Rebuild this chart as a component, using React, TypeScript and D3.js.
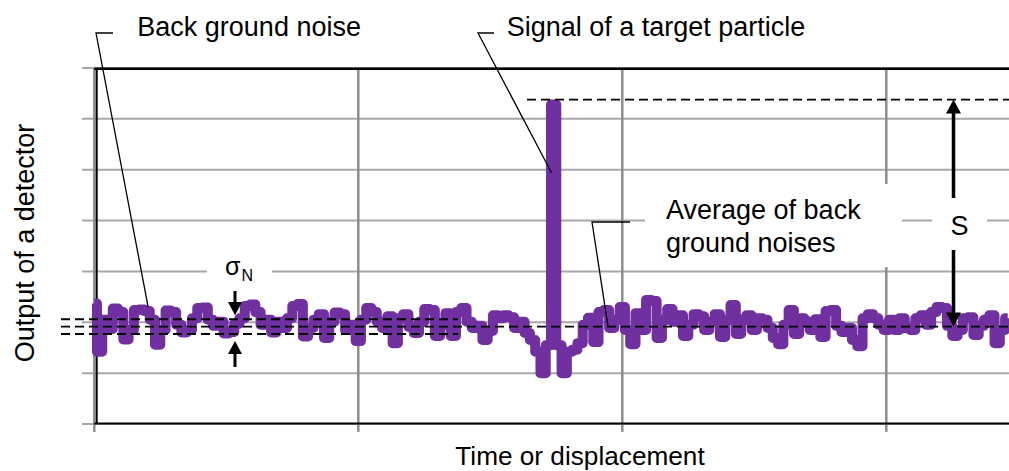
import React from 'react';
import * as d3 from 'd3';

const W = 1009;
const H = 471;

// Detector output, one value per sample (arbitrary units)
const noiseValues: number[] = [
  3.7, -5.8, 0.5, -1.3, 2.7, 2.0, -3.4, -1.5, 2.4, 2.5,
  2.2, 0.5, -4.4, -1.5, 2.3, 2.0, -0.5, -2.0, -1.5, 0.8,
  2.8, 2.9, 0.5, -0.7, 0.1, -2.2, -1.9, -0.3, 0.8, 3.2,
  3.5, 2.0, -0.5, 0.5, -2.0, 0.1, -1.1, 0.8, 3.2, 3.6,
  -2.8, -1.1, 0.5, 1.6, -3.1, 0.1, 1.9, 1.6, -1.5, -0.5,
  -3.7, 0.5, 2.8, 2.0, 0.1, -1.1, 1.2, -4.1, 0.8, 1.6,
  -0.9, -2.1, 0.1, 2.6, 2.4, -2.7, -0.5, 1.8, -2.7, 2.0,
  2.8, 0.1, -1.1, -0.7, -3.5, -1.7, 1.4, 0.8, 1.4, 1.0,
  -1.1, 0.1, -2.1, -3.5, -5.8, -10.0, -4.5, 42.8, -4.5, -10.0,
  -5.8, -5.4, -4.1, -0.5, 0.9, -3.9, 2.0, 2.4, -1.1, 0.5,
  3.0, -1.5, -4.3, 1.8, -1.5, 4.4, 4.2, -3.1, 0.5, 2.6,
  0.1, 1.4, -2.7, -0.5, 1.6, 1.2, -1.5, 0.1, 1.6, -2.9,
  0.5, 3.4, -2.3, 0.5, 1.4, -1.5, 0.8, 0.5, -1.1, -3.1,
  -4.3, -0.5, 2.4, -2.3, 0.8, 0.1, -1.5, 0.6, -2.9, 2.2,
  2.4, -0.7, -1.9, -1.1, -3.5, -4.7, 0.8, 1.6, 0.8, -0.5,
  -1.5, 0.5, -1.5, 0.8, -1.1, -1.5, 0.8, 1.4, -0.5, 2.0,
  3.0, 2.8, -0.7, -2.7, -1.5, 0.8, 1.0, -2.5, -0.7, 0.5,
  1.4, -4.1, -1.5, 0.8,
];

const xGridTicks = [0, 50, 100, 150];
const yGridTicks = [-20, -10, 0, 10, 20, 30, 40, 50];

const noiseMean = -0.85;
const noiseSigma = 1.45;
const signalLevel = 43.8;

const xTitle = 'Time or displacement';
const yTitle = 'Output of a detector';
const noiseLabel = 'Back ground noise';
const signalLabel = 'Signal of a target particle';
const averageLabel = ['Average of back', 'ground noises'];
const sLabel = 'S';

// anchor points of leader lines (sample index, value)
const noiseAnchor = { i: 10.2, v: 3.0 };
const signalAnchor = { i: 86.6, v: 29.4 };
const averageAnchor = { i: 97.3, v: noiseMean };

const PURPLE = '#7030A0';
const FONT = '"Liberation Sans", Arial, sans-serif';

export default function App() {
  const x = d3.scaleLinear().domain([0, 150]).range([94.3, 886.3]);
  const y = d3.scaleLinear().domain([-20, 50]).range([424, 68]);
  const plotLeft = x(0);
  const plotRight = 1015;
  const plotTop = y(50);
  const plotBottom = y(-20);

  const line = d3
    .line<number>()
    .x((_, i) => x(i))
    .y((d) => y(d))
    .curve(d3.curveStep);

  const yMean = y(noiseMean);
  const ySigUp = y(noiseMean + noiseSigma);
  const ySigDn = y(noiseMean - noiseSigma);
  const ySignal = y(signalLevel);

  const dash = '9,5';
  const sX = 953.5;
  const sigX = 235;

  return (
    <svg
      width={W}
      height={H}
      style={{ position: 'absolute', left: 0, top: 0, background: '#fff' }}
      fontFamily={FONT}
    >
      <rect x={0} y={0} width={W} height={H} fill="#fff" />
      {/* horizontal gridlines + y ticks */}
      {yGridTicks.map((t) => (
        <line key={'h' + t} x1={82} x2={plotRight} y1={y(t)} y2={y(t)} stroke="#a8a8a8" strokeWidth={2} />
      ))}
      {/* vertical gridlines + x ticks */}
      {xGridTicks.map((t) => (
        <line key={'v' + t} x1={x(t)} x2={x(t)} y1={plotTop} y2={plotBottom + 8} stroke="#8e8e8e" strokeWidth={2.5} />
      ))}
      {/* plot border */}
      <line x1={plotLeft} x2={plotRight} y1={plotTop + 0.8} y2={plotTop + 0.8} stroke="#000" strokeWidth={2.6} />
      <line x1={plotLeft + 2.4} x2={plotLeft + 2.4} y1={plotTop} y2={plotBottom} stroke="#000" strokeWidth={2} />
      <line x1={plotLeft} x2={plotRight} y1={plotBottom - 0.4} y2={plotBottom - 0.4} stroke="#000" strokeWidth={2} />

      {/* white boxes behind labels */}
      <rect x={207} y={256} width={65} height={32} fill="#fff" />
      <rect x={645} y={184} width={257} height={83} fill="#fff" />

      {/* signal */}
      <path d={line(noiseValues) || ''} fill="none" stroke={PURPLE} strokeWidth={10} strokeLinejoin="round" strokeLinecap="butt" />

      {/* dashed reference lines */}
      <line x1={61} x2={plotRight} y1={yMean} y2={yMean} stroke="#000" strokeWidth={1.8} strokeDasharray={dash} />
      <line x1={61} x2={458} y1={ySigUp} y2={ySigUp} stroke="#000" strokeWidth={1.8} strokeDasharray={dash} />
      <line x1={61} x2={458} y1={ySigDn} y2={ySigDn} stroke="#000" strokeWidth={1.8} strokeDasharray={dash} />
      <line x1={527} x2={plotRight} y1={ySignal} y2={ySignal} stroke="#000" strokeWidth={1.8} strokeDasharray={dash} />

      {/* sigma arrows */}
      <line x1={sigX} x2={sigX} y1={291} y2={304} stroke="#000" strokeWidth={3} />
      <path d={`M${sigX - 7},${302} L${sigX + 7},${302} L${sigX},${ySigUp - 4} Z`} fill="#000" />
      <line x1={sigX} x2={sigX} y1={352} y2={367} stroke="#000" strokeWidth={3} />
      <path d={`M${sigX - 7},${354} L${sigX + 7},${354} L${sigX},${ySigDn + 7} Z`} fill="#000" />

      {/* S arrow */}
      <line x1={sX} x2={sX} y1={ySignal + 12} y2={yMean - 12} stroke="#000" strokeWidth={3.5} />
      <path d={`M${sX - 7.5},${ySignal + 14} L${sX + 7.5},${ySignal + 14} L${sX},${ySignal} Z`} fill="#000" />
      <path d={`M${sX - 7.5},${yMean - 14} L${sX + 7.5},${yMean - 14} L${sX},${yMean} Z`} fill="#000" />
      <rect x={932} y={198} width={55} height={52} fill="#fff" />
      <text x={959.5} y={235} fontSize={27} textAnchor="middle" fill="#000">{sLabel}</text>

      {/* sigma label */}
      <text x={225} y={275} fontSize={25} fill="#000">σ</text>
      <text x={241.5} y={281} fontSize={16} fill="#000">N</text>

      {/* leader lines */}
      <polyline
        points={`113,33 96,33 ${x(noiseAnchor.i)},${y(noiseAnchor.v)}`}
        fill="none" stroke="#000" strokeWidth={1.3}
      />
      <polyline
        points={`494,33 478,33 ${x(signalAnchor.i)},${y(signalAnchor.v)}`}
        fill="none" stroke="#000" strokeWidth={1.3}
      />
      <polyline
        points={`630,222 592,222 ${x(averageAnchor.i)},${y(averageAnchor.v)}`}
        fill="none" stroke="#000" strokeWidth={1.3}
      />

      {/* annotation texts */}
      <text x={137.3} y={36} fontSize={27} fill="#000">{noiseLabel}</text>
      <text x={506.7} y={36} fontSize={27} fill="#000">{signalLabel}</text>
      {averageLabel.map((t, k) => (
        <text key={t} x={666} y={219 + k * 33} fontSize={27} fill="#000">{t}</text>
      ))}

      {/* axis titles */}
      <text x={580} y={465} fontSize={26.2} textAnchor="middle" fill="#000">{xTitle}</text>
      <text transform="translate(33.5,243) rotate(-90)" fontSize={27} textAnchor="middle" fill="#000">{yTitle}</text>
    </svg>
  );
}
